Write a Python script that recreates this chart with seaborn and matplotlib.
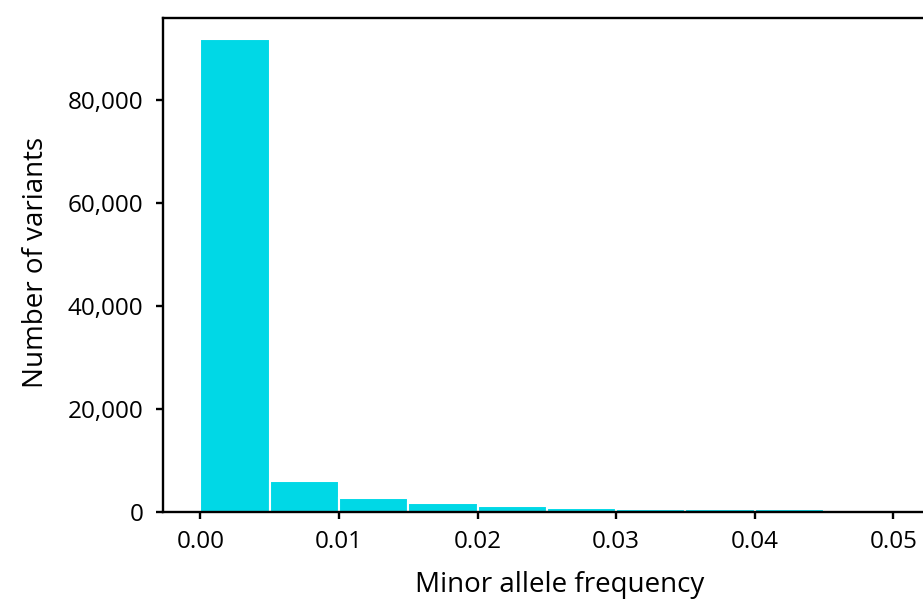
import numpy as np
import seaborn as sns
import matplotlib.pyplot as plt
from matplotlib.ticker import FuncFormatter

# histogram of minor allele frequency, bins of 0.005
bin_edges = [0.0, 0.005, 0.01, 0.015, 0.02, 0.025, 0.03, 0.035, 0.04, 0.045, 0.05]
bin_centers = [0.0025, 0.0075, 0.0125, 0.0175, 0.0225, 0.0275, 0.0325, 0.0375, 0.0425, 0.0475]
variant_counts = [91900, 6000, 2800, 1800, 1230, 840, 600, 600, 600, 200]
x_ticks = [0.00, 0.01, 0.02, 0.03, 0.04, 0.05]
y_ticks = [0, 20000, 40000, 60000, 80000]

sns.set_style('ticks')
plt.rcParams['font.family'] = ['Open Sans', 'DejaVu Sans']

fig = plt.figure(figsize=(9.23, 5.99), dpi=100)
ax = fig.add_axes([163 / 923, 1 - 512 / 599, 765 / 923, (512 - 18) / 599])

sns.histplot(x=bin_centers, weights=variant_counts, bins=bin_edges, ax=ax,
             color='#00d8e6', alpha=1, edgecolor='white', linewidth=1.5)

ax.set_xlim(-0.0027, 0.0525)
ax.set_ylim(0, 96000)
ax.set_xticks(x_ticks)
ax.set_xticklabels([f'{t:.2f}' for t in x_ticks])
ax.set_yticks(y_ticks)
ax.yaxis.set_major_formatter(FuncFormatter(lambda v, p: f'{int(v):,}'))

for s in ax.spines.values():
    s.set_linewidth(1.7)
    s.set_color('black')
ax.tick_params(axis='both', labelsize=17.5, width=1.7, length=5, color='black',
               labelcolor='black')
ax.tick_params(axis='x', pad=8)
ax.tick_params(axis='y', pad=9)

ax.set_xlabel('Minor allele frequency', fontsize=20, color='black')
ax.set_ylabel('Number of variants', fontsize=20, color='black')
ax.xaxis.set_label_coords(0.519, -0.12)
ax.yaxis.set_label_coords(-0.148, 0.505)

fig.savefig('out.png', dpi=100)
